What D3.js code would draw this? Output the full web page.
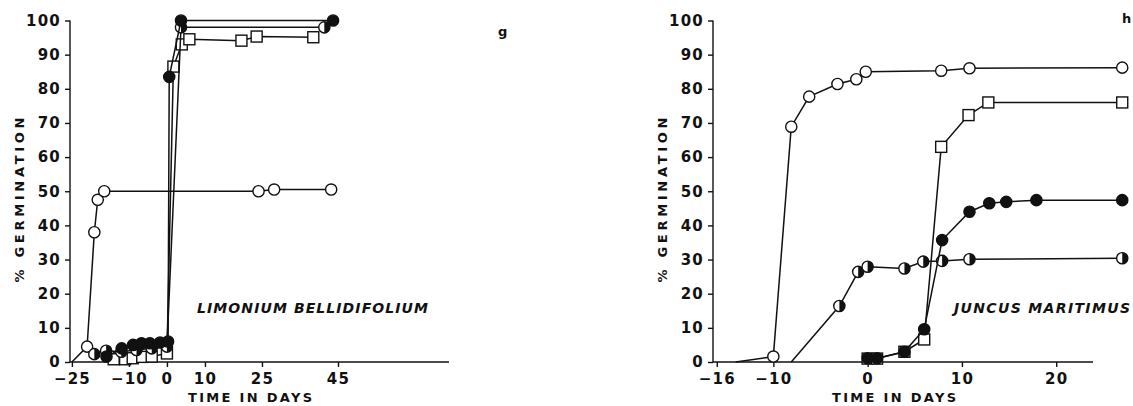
<!DOCTYPE html>
<html><head><meta charset="utf-8">
<script src="https://cdn.jsdelivr.net/npm/d3@7"></script>
<style>
body{margin:0;background:#fff;}
svg text{font-family:"DejaVu Sans","Liberation Sans",sans-serif;font-weight:bold;fill:#111;}
</style></head>
<body><svg id="c" width="1133" height="406"></svg>
<script>
// ---- data ----
const yTicks = [0,10,20,30,40,50,60,70,80,90,100];
const gXTicks = [-25,-10,0,10,25,45];
const hXTicks = [-16,-10,0,10,20];
const gXTickLabels = ["−25","−10","0","10","25","45"];
const hXTickLabels = ["−16","−10","0","10","20"];

// panel g: Limonium bellidifolium  [day, % germination]
const gOpenStart = [[-25,0]];
const gOpen = [[-21,4.5],[-19.1,38],[-18.2,47.5],[-16.5,50],[24.1,50],[28.2,50.5],[43.2,50.5]];
const gHalf = [[-19.1,2.3],[-16,3.3],[-12,3],[-8,3.5],[-4,4],[0,4.5],[3.7,98],[41.4,98]];
const gSquare = [[-14,0.8],[-11,0.8],[-9,1.1],[-6.5,1.5],[-4,1.6],[0,2.5],[1.7,86.5],[3.9,93],[5.9,94.5],[19.6,94.1],[23.6,95.3],[38.5,95.1]];
const gFilled = [[-15.9,1.6],[-11.9,4],[-8.9,5],[-6.7,5.5],[-4.5,5.5],[-1.8,5.7],[0.3,6],[0.6,83.5],[3.7,100],[43.7,100]];

// panel h: Juncus maritimus
const hOpenStart = [[-14,0]];
const hOpen = [[-10,1.6],[-8.1,68.9],[-6.2,77.7],[-3.2,81.4],[-1.2,82.8],[-0.2,85],[7.8,85.3],[10.8,86],[27,86.2]];
const hHalfStart = [[-8.1,0]];
const hHalf = [[-3,16.4],[-1,26.4],[0,27.9],[3.9,27.4],[5.9,29.4],[7.9,29.6],[10.8,30.1],[27,30.4]];
const hSquare = [[0,1],[1,1],[3.9,3],[6,6.6],[7.8,63],[10.7,72.3],[12.8,76],[27,76]];
const hFilled = [[0,1.1],[1,1.1],[3.9,3],[6,9.6],[7.9,35.7],[10.8,44],[12.9,46.5],[14.7,46.9],[17.9,47.4],[27,47.4]];

const svg = d3.select("#c");
const y = d3.scaleLinear().domain([0,100]).range([362,20.5]);

function panel(opt){
  const x = d3.scaleLinear().domain(opt.domain).range([opt.x0,opt.x1]);
  const g = svg.append("g");
  const ya = g.append("g").attr("transform",`translate(${opt.x0},0)`)
    .call(d3.axisLeft(y).tickValues(yTicks).tickSize(5).tickPadding(4));
  ya.select(".domain").attr("d",`M0,${y(0)}V${y(100)}`);
  const xa = g.append("g").attr("transform",`translate(0,${y(0)})`)
    .call(d3.axisBottom(x).tickValues(opt.ticks).tickFormat((d,i)=>opt.tickLabels[i]).tickSize(5).tickPadding(6));
  [ya,xa].forEach(a=>{
    a.selectAll("path,line").attr("stroke","#111").attr("stroke-width",1.4);
    a.selectAll("text").style("font-size","15px").style("letter-spacing","1.2px").attr("fill","#111");
  });
  xa.select(".domain").attr("d",`M${opt.x0},0H${opt.x1}`);
  g.append("text").attr("x",opt.xTitleX).attr("y",402).attr("text-anchor","middle")
    .attr("textLength",124).attr("lengthAdjust","spacing").style("font-size","13px").text("TIME IN DAYS");
  g.append("text").attr("transform",`translate(${opt.yTitleX},200) rotate(-90)`).attr("text-anchor","middle")
    .attr("textLength",165).attr("lengthAdjust","spacing").style("font-size","13px").text("% GERMINATION");
  g.append("text").attr("x",opt.spX).attr("y",313).attr("textLength",opt.spW).attr("lengthAdjust","spacing")
    .style("font-size","14px").style("font-style","italic").text(opt.species);
  g.append("text").attr("x",opt.letterX).attr("y",opt.letterY).style("font-size","13px").text(opt.letter);

  const line = d3.line().x(d=>x(d[0])).y(d=>y(d[1]));
  const R = 5.6;
  function series(data, marker, start){
    const pts = start ? start.concat(data) : data;
    g.append("path").attr("d",line(pts)).attr("fill","none").attr("stroke","#111").attr("stroke-width",1.5);
    const m = g.append("g").selectAll("g").data(data).join("g")
      .attr("transform",d=>`translate(${x(d[0])},${y(d[1])})`);
    if(marker==="square"){
      m.append("rect").attr("x",-5.5).attr("y",-5.5).attr("width",11).attr("height",11)
        .attr("fill","#fff").attr("stroke","#111").attr("stroke-width",1.4);
    } else {
      m.append("circle").attr("r",R).attr("fill",marker==="filled"?"#111":"#fff")
        .attr("stroke","#111").attr("stroke-width",1.4);
      if(marker==="half"){
        m.append("path").attr("d",`M0,${-R}A${R},${R} 0 0 1 0,${R}Z`).attr("fill","#111");
      }
    }
  }
  opt.series.forEach(s=>series(s[0],s[1],s[2]));
}

panel({domain:[-25.5,74.2],x0:70,x1:449,ticks:gXTicks,tickLabels:gXTickLabels,
  xTitleX:250,yTitleX:24,spX:197,spW:231,species:"LIMONIUM BELLIDIFOLIUM",letter:"g",letterX:498,letterY:36,
  series:[[gOpen,"open",gOpenStart],[gSquare,"square"],[gHalf,"half"],[gFilled,"filled"]]});

panel({domain:[-16.4,23.9],x0:713,x1:1093,ticks:hXTicks,tickLabels:hXTickLabels,
  xTitleX:894,yTitleX:667,spX:954,spW:176,species:"JUNCUS MARITIMUS",letter:"h",letterX:1122,letterY:23,
  series:[[hOpen,"open",hOpenStart],[hHalf,"half",hHalfStart],[hSquare,"square"],[hFilled,"filled"]]});
</script></body></html>
